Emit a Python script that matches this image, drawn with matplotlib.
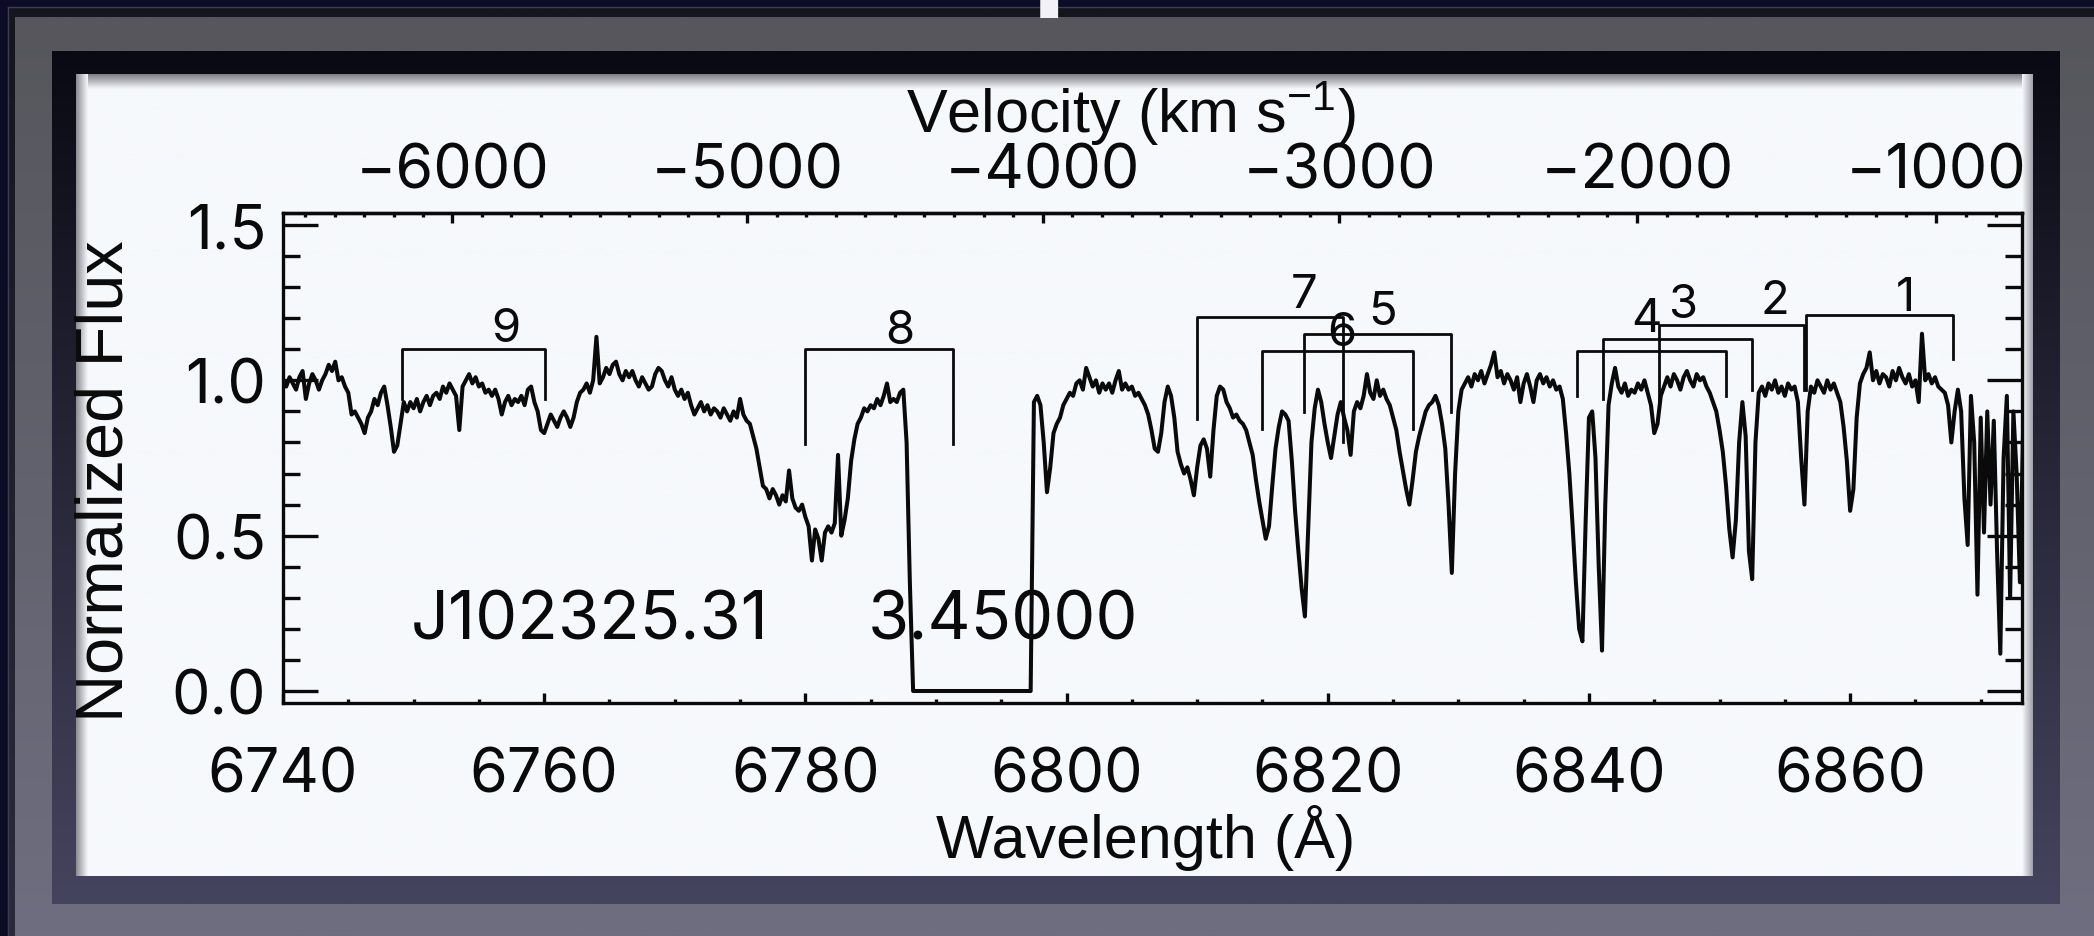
import numpy as np
import matplotlib
matplotlib.use("Agg")
import matplotlib.pyplot as plt
from matplotlib.colors import to_rgb
from matplotlib.ticker import MultipleLocator, FixedLocator, FormatStrFormatter

plt.rcParams['font.family'] = ['Liberation Sans', 'DejaVu Sans']
plt.rcParams['mathtext.fontset'] = 'custom'
plt.rcParams['mathtext.rm'] = 'Liberation Sans'
plt.rcParams['mathtext.it'] = 'Liberation Sans:italic'
plt.rcParams['mathtext.bf'] = 'Liberation Sans:bold'
NUM_FONT = ['Inter', 'Liberation Sans', 'DejaVu Sans']

# ---------------- spectrum (uniform 0.25 A pixel grid) ----------------
WAVE_START = 6740.0
WAVE_STEP = 0.25

flux_6740 = [1.00, 0.98, 1.01, 0.99, 0.97, 1.01, 1.03, 0.94, 0.99, 1.02, 1.00, 0.97, 1.00, 1.02, 1.05, 1.03, 1.06, 1.00, 1.01, 0.98]
flux_6745 = [0.96, 0.89, 0.90, 0.88, 0.86, 0.83, 0.88, 0.90, 0.94, 0.92, 0.96, 0.98, 0.92, 0.85, 0.77, 0.79, 0.86, 0.93, 0.90, 0.93]
flux_6750 = [0.91, 0.94, 0.90, 0.93, 0.95, 0.92, 0.95, 0.96, 0.94, 0.98, 0.96, 0.99, 0.97, 0.95, 0.84, 0.98, 1.00, 1.02, 0.99, 1.01]
flux_6755 = [0.98, 0.99, 0.96, 0.97, 0.95, 0.97, 0.94, 0.89, 0.93, 0.95, 0.92, 0.94, 0.93, 0.95, 0.92, 0.97, 0.98, 0.93, 0.90, 0.84]
flux_6760 = [0.83, 0.86, 0.89, 0.87, 0.85, 0.88, 0.90, 0.88, 0.85, 0.88, 0.93, 0.96, 0.97, 0.99, 0.96, 1.00, 1.14, 0.99, 1.01, 1.04]
flux_6765 = [1.02, 1.05, 1.06, 1.02, 1.00, 1.03, 1.01, 1.03, 1.00, 0.98, 1.01, 0.99, 0.97, 0.98, 1.02, 1.04, 1.03, 1.00, 0.98, 1.01]
flux_6770 = [0.97, 0.95, 0.97, 0.94, 0.96, 0.92, 0.89, 0.91, 0.93, 0.90, 0.92, 0.89, 0.91, 0.90, 0.88, 0.91, 0.89, 0.87, 0.90, 0.88]
flux_6775 = [0.94, 0.89, 0.87, 0.86, 0.82, 0.78, 0.72, 0.66, 0.65, 0.62, 0.65, 0.63, 0.60, 0.63, 0.61, 0.71, 0.62, 0.59, 0.58, 0.60]
flux_6780 = [0.56, 0.53, 0.42, 0.52, 0.49, 0.42, 0.51, 0.53, 0.51, 0.54, 0.76, 0.50, 0.55, 0.62, 0.74, 0.81, 0.86, 0.88, 0.91, 0.90]
flux_6785 = [0.92, 0.91, 0.94, 0.92, 0.95, 0.99, 0.93, 0.94, 0.93, 0.96, 0.97, 0.80, 0.35, 0.00, 0.00, 0.00, 0.00, 0.00, 0.00, 0.00]
flux_6790 = [0.00] * 20
flux_6795 = [0.00, 0.00, 0.00, 0.00, 0.00, 0.00, 0.00, 0.00, 0.00, 0.00, 0.93, 0.95, 0.92, 0.80, 0.64, 0.72, 0.83, 0.86, 0.88, 0.92]
flux_6800 = [0.94, 0.96, 0.95, 0.99, 1.00, 0.97, 1.04, 1.01, 0.98, 1.00, 0.96, 0.99, 0.97, 0.99, 0.96, 1.00, 1.03, 0.97, 0.99, 0.97]
flux_6805 = [0.98, 0.95, 0.96, 0.94, 0.92, 0.89, 0.84, 0.78, 0.77, 0.83, 0.93, 0.98, 0.95, 0.88, 0.77, 0.73, 0.70, 0.72, 0.68, 0.63]
flux_6810 = [0.72, 0.79, 0.81, 0.78, 0.69, 0.84, 0.95, 0.98, 0.97, 0.93, 0.91, 0.88, 0.89, 0.87, 0.86, 0.84, 0.80, 0.76, 0.68, 0.61]
flux_6815 = [0.55, 0.49, 0.53, 0.66, 0.78, 0.85, 0.90, 0.89, 0.87, 0.74, 0.58, 0.45, 0.33, 0.24, 0.52, 0.80, 0.91, 0.97, 0.93, 0.86]
flux_6820 = [0.80, 0.75, 0.82, 0.89, 0.93, 0.88, 0.84, 0.76, 0.90, 0.93, 0.91, 0.95, 1.02, 0.96, 0.94, 1.00, 0.95, 0.97, 0.94, 0.92]
flux_6825 = [0.88, 0.84, 0.77, 0.71, 0.65, 0.60, 0.68, 0.77, 0.82, 0.86, 0.90, 0.92, 0.93, 0.95, 0.92, 0.86, 0.78, 0.60, 0.38, 0.70]
flux_6830 = [0.90, 0.97, 0.99, 1.01, 0.98, 1.02, 1.00, 1.03, 0.99, 1.02, 1.05, 1.09, 1.01, 1.03, 0.99, 1.02, 1.00, 0.97, 1.01, 0.93]
flux_6835 = [0.99, 1.02, 0.98, 0.93, 1.00, 1.02, 0.99, 1.01, 0.98, 1.00, 0.97, 0.98, 0.94, 0.83, 0.70, 0.53, 0.35, 0.20, 0.16, 0.55]
flux_6840 = [0.88, 0.90, 0.75, 0.40, 0.13, 0.60, 0.92, 0.99, 1.04, 0.98, 0.96, 0.99, 0.95, 0.97, 0.96, 0.99, 0.97, 1.00, 0.96, 0.92]
flux_6845 = [0.83, 0.86, 0.95, 0.98, 1.01, 0.98, 1.02, 1.00, 0.97, 1.01, 1.03, 1.00, 0.98, 1.02, 1.00, 1.01, 0.98, 0.96, 0.93, 0.90]
flux_6850 = [0.84, 0.77, 0.66, 0.52, 0.43, 0.55, 0.80, 0.93, 0.82, 0.45, 0.36, 0.80, 0.96, 0.98, 0.95, 0.99, 0.97, 1.00, 0.96, 0.98]
flux_6855 = [0.95, 0.99, 0.97, 0.98, 0.93, 0.75, 0.60, 0.90, 0.98, 0.96, 1.00, 0.98, 0.96, 1.00, 0.97, 0.99, 0.96, 0.93, 0.85, 0.74]
flux_6860 = [0.58, 0.65, 0.88, 0.99, 1.02, 1.04, 1.09, 1.00, 1.03, 0.99, 1.02, 1.01, 0.98, 1.03, 1.00, 1.04, 1.01, 0.99, 1.02, 0.98]
flux_6865 = [1.00, 0.93, 1.15, 1.00, 1.02, 0.99, 1.01, 0.98, 0.97, 0.96, 0.92, 0.80, 0.90, 0.97, 0.90, 0.62, 0.47, 0.95, 0.80, 0.31]
flux_6870 = [0.88, 0.51, 0.90, 0.60, 0.87, 0.45, 0.12, 0.75, 0.95, 0.30, 0.90, 0.70, 0.35, 0.85]

flux = np.array(flux_6740 + flux_6745 + flux_6750 + flux_6755 + flux_6760 + flux_6765
                + flux_6770 + flux_6775 + flux_6780 + flux_6785 + flux_6790 + flux_6795
                + flux_6800 + flux_6805 + flux_6810 + flux_6815 + flux_6820 + flux_6825
                + flux_6830 + flux_6835 + flux_6840 + flux_6845 + flux_6850 + flux_6855
                + flux_6860 + flux_6865 + flux_6870)
wave = WAVE_START + WAVE_STEP * np.arange(flux.size)

# ---------------- absorber doublet markers ----------------
system_ids = [9, 8, 7, 6, 5, 4, 3, 2, 1]
leg_blue   = [6749.1, 6780.0, 6810.0, 6815.0, 6818.2, 6839.1, 6841.1, 6845.4, 6856.6]
leg_red    = [6760.1, 6791.3, 6821.2, 6826.5, 6829.4, 6850.5, 6852.5, 6856.5, 6867.9]
bar_level  = [1.100, 1.100, 1.204, 1.094, 1.149, 1.094, 1.133, 1.178, 1.210]
foot_blue  = [0.940, 0.795, 0.875, 0.843, 0.898, 0.950, 0.940, 0.917, 0.970]
foot_red   = [0.940, 0.795, 0.800, 0.843, 0.898, 0.950, 0.970, 0.970, 1.070]
label_x    = [6757.1, 6787.2, 6818.2, 6821.1, 6824.2, 6844.4, 6847.2, 6854.2, 6864.2]
label_y    = [1.180, 1.175, 1.290, 1.170, 1.235, 1.213, 1.260, 1.270, 1.280]

QSO_NAME = "J102325.31"
QSO_Z = "3.45000"

wave_ticks = [6740, 6760, 6780, 6800, 6820, 6840, 6860]
vel_ticks = [-6000, -5000, -4000, -3000, -2000, -1000]

# velocity relative to C IV 1548 at the quasar redshift
C_KMS = 299792.458
LAM0 = 6889.5


def lam_to_vel(lam):
    r2 = (np.asarray(lam, dtype=float) / LAM0) ** 2
    return C_KMS * (r2 - 1.0) / (r2 + 1.0)


def vel_to_lam(vel):
    b = np.clip(np.asarray(vel, dtype=float) / C_KMS, -0.99, 0.99)
    return LAM0 * np.sqrt((1.0 + b) / (1.0 - b))


# ---------------- figure & slide frame ----------------
W, H = 2094, 937
fig = plt.figure(figsize=(W / 100, H / 100), dpi=100)
fig.patch.set_facecolor('#0c0c26')

bg = fig.add_axes([0, 0, 1, 1], zorder=-10)
bg.axis('off')


def vgrad(x0, x1, y0, y1, c_top, c_bot, z):
    ct, cb = np.array(to_rgb(c_top)), np.array(to_rgb(c_bot))
    t = np.linspace(0, 1, 128)[:, None, None]
    img = ct * (1 - t) + cb * t
    bg.imshow(img, extent=[x0, x1, y1, y0], aspect='auto', zorder=z,
              interpolation='bilinear')


def hgrad(x0, x1, y0, y1, c_left, c_right, z):
    cl, cr = np.array(to_rgb(c_left)), np.array(to_rgb(c_right))
    t = np.linspace(0, 1, 64)[None, :, None]
    img = cl * (1 - t) + cr * t
    bg.imshow(img, extent=[x0, x1, y1, y0], aspect='auto', zorder=z,
              interpolation='bilinear')


vgrad(8, W, 8, H, '#15151e', '#2a2a3c', 1)
bg.plot([8, W], [8, 8], color='#3c3c52', lw=1.0, zorder=1.5)
bg.plot([8, 8], [8, H], color='#3c3c52', lw=1.0, zorder=1.5)
vgrad(15, W, 18, H, '#56565c', '#6e6e80', 2)
vgrad(52, 2060, 52, 905, '#0a0a14', '#44445e', 3)
vgrad(76, 2033, 75, 877, '#f6f9fc', '#f6f9fc', 4)
vgrad(76, 2033, 75, 90, '#7c7c84', '#f6f9fc', 5)
hgrad(76, 88, 75, 877, '#8a8a92', '#f6f9fc', 5)
hgrad(2022, 2033, 75, 877, '#f6f9fc', '#a0a0a8', 5)
bg.set_xlim(0, W)
bg.set_ylim(H, 0)

# slide title glyph running off the top edge
fig.text(1030 / W, 1 + 9 / H, "p", color='#f2f2f6', fontsize=95,
         fontweight='bold', ha='left', va='baseline', zorder=20)

# ---------------- spectrum axes ----------------
L, R, T, B = 283, 2022, 214, 704
ax = fig.add_axes([L / W, 1 - B / H, (R - L) / W, (B - T) / H])
ax.set_facecolor('none')
ax.set_xlim(6740.0, 6873.16)
ax.set_ylim(-0.0386, 1.5386)

INK = '#0a0a0a'
ax.plot(wave, flux, color=INK, lw=2.9, zorder=3)

for bl, rd, bar, fb, fr in zip(leg_blue, leg_red, bar_level, foot_blue, foot_red):
    ax.plot([bl, bl, rd, rd], [fb, bar, bar, fr], color=INK, lw=2.0, zorder=4)
for sid, lx, ly in zip(system_ids, label_x, label_y):
    ax.text(lx, ly, str(sid), ha='center', va='center_baseline',
            fontsize=34, color=INK, zorder=5, family=NUM_FONT)

ax.text(6749.8, 0.248, QSO_NAME, ha='left', va='center_baseline',
        fontsize=48, color=INK, zorder=5, family=NUM_FONT)
ax.text(6784.8, 0.248, QSO_Z, ha='left', va='center_baseline',
        fontsize=48, color=INK, zorder=5, family=NUM_FONT)

for s in ax.spines.values():
    s.set_linewidth(2.4)
    s.set_color(INK)

ax.xaxis.set_major_locator(FixedLocator(wave_ticks))
ax.xaxis.set_minor_locator(MultipleLocator(5))
ax.yaxis.set_major_locator(MultipleLocator(0.5))
ax.yaxis.set_minor_locator(MultipleLocator(0.1))
ax.yaxis.set_major_formatter(FormatStrFormatter('%.1f'))

ax.tick_params(axis='y', which='major', direction='in', length=25, width=2.4,
               left=True, right=True, labelsize=44, pad=12, colors=INK)
ax.tick_params(axis='y', which='minor', direction='in', length=12.5, width=2.4,
               left=True, right=True, colors=INK)
ax.tick_params(axis='x', which='major', direction='in', length=7, width=2.4,
               bottom=True, top=False, labelsize=44, pad=31, colors=INK)
ax.tick_params(axis='x', which='minor', direction='in', length=3, width=2.4,
               bottom=True, top=False, colors=INK)

sec = ax.secondary_xaxis('top', functions=(lam_to_vel, vel_to_lam))
sec.xaxis.set_major_locator(FixedLocator(vel_ticks))
sec.xaxis.set_minor_locator(MultipleLocator(100))
sec.tick_params(which='major', direction='in', length=7, width=2.4,
                labelsize=44, pad=9, colors=INK)
sec.tick_params(which='minor', direction='in', length=3, width=2.4, colors=INK)
sec.spines['top'].set_linewidth(2.4)

for lab in ax.get_xticklabels() + ax.get_yticklabels() + sec.xaxis.get_ticklabels():
    lab.set_family(NUM_FONT)

# axis titles (positions given in figure pixels)
ax.set_xlabel("Wavelength (Å)", fontsize=44, color=INK, va='baseline', ha='center')
ax.xaxis.set_label_coords(1146 / W, 1 - 858 / H, transform=fig.transFigure)
ax.set_ylabel("Normalized Flux", fontsize=48, color=INK, va='baseline',
              ha='center', rotation=90, rotation_mode='anchor')
ax.yaxis.set_label_coords(123 / W, 1 - 481 / H, transform=fig.transFigure)
sec.set_xlabel(r"Velocity (km s$^{-1}$)", fontsize=44, color=INK,
               va='baseline', ha='center')
sec.xaxis.set_label_coords(1131 / W, 1 - 133 / H, transform=fig.transFigure)

fig.savefig("out.png", dpi=100, facecolor=fig.get_facecolor())
